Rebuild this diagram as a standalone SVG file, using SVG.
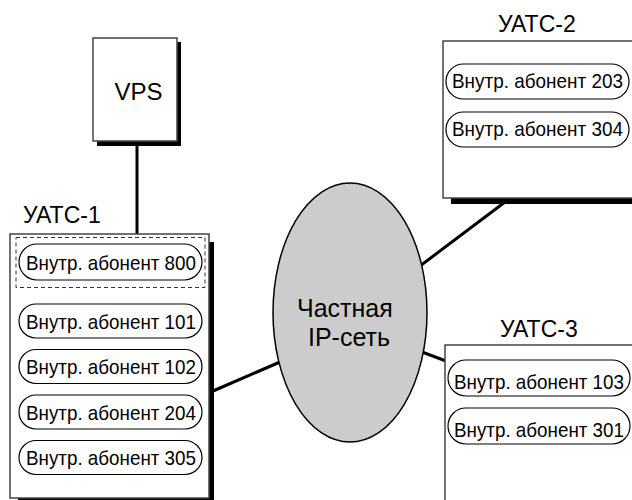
<svg xmlns="http://www.w3.org/2000/svg" width="632" height="500" viewBox="0 0 632 500">
<style>
.box{fill:#fff;stroke:#444;stroke-width:1.5}
.sh{fill:#000}
.pill{fill:#fff;stroke:#000;stroke-width:1.2}
.t{font-family:"Liberation Sans",Arial,sans-serif;fill:#000}
.pt{font-size:21px;text-anchor:middle}
.lbl{font-size:23px}
.con{stroke:#000;stroke-width:3;fill:none}
</style>
<rect width="632" height="500" fill="#fff"/>
<g id="connectors">
<line class="con" x1="137" y1="143" x2="137" y2="234"/>
<line class="con" x1="213" y1="391" x2="280" y2="362"/>
<line class="con" x1="505" y1="202" x2="420" y2="266"/>
<line class="con" x1="422" y1="352" x2="446" y2="361"/>
</g>
<g id="vps">
<rect class="sh" x="97" y="42" width="84" height="104"/>
<rect class="box" x="93" y="38" width="84" height="103"/>
<text class="t" x="138.5" y="100" font-size="24" text-anchor="middle">VPS</text>
</g>
<g id="uatc1">
<text class="t lbl" x="23" y="223">УАТС-1</text>
<rect class="sh" x="18" y="242" width="196" height="258"/>
<rect class="box" x="10" y="234" width="199" height="264"/>
<rect x="16" y="237.5" width="189" height="50" fill="none" stroke="#333" stroke-width="1" stroke-dasharray="4 3"/>
<g id="ext800"><rect class="pill" x="19" y="244" width="183" height="36" rx="18"/><text class="t pt" x="111" y="269.5" textLength="170" lengthAdjust="spacingAndGlyphs">Внутр. абонент 800</text></g>
<g id="ext101"><rect class="pill" x="19" y="304" width="183" height="34" rx="17"/><text class="t pt" x="111" y="328.5" textLength="170" lengthAdjust="spacingAndGlyphs">Внутр. абонент 101</text></g>
<g id="ext102"><rect class="pill" x="19" y="349.5" width="183" height="34" rx="17"/><text class="t pt" x="111" y="374" textLength="170" lengthAdjust="spacingAndGlyphs">Внутр. абонент 102</text></g>
<g id="ext204"><rect class="pill" x="19" y="395" width="183" height="34" rx="17"/><text class="t pt" x="111" y="419.5" textLength="170" lengthAdjust="spacingAndGlyphs">Внутр. абонент 204</text></g>
<g id="ext305"><rect class="pill" x="19" y="440.5" width="183" height="34" rx="17"/><text class="t pt" x="111" y="465" textLength="170" lengthAdjust="spacingAndGlyphs">Внутр. абонент 305</text></g>
</g>
<g id="uatc2">
<text class="t lbl" x="498" y="32">УАТС-2</text>
<rect class="sh" x="451" y="49" width="181" height="155"/>
<rect class="box" x="443" y="41" width="190" height="157"/>
<g id="ext203"><rect class="pill" x="446" y="64" width="183" height="35" rx="17.5"/><text class="t pt" x="537.5" y="88" textLength="171" lengthAdjust="spacingAndGlyphs">Внутр. абонент 203</text></g>
<g id="ext304"><rect class="pill" x="446" y="112" width="183" height="35" rx="17.5"/><text class="t pt" x="537.5" y="136" textLength="171" lengthAdjust="spacingAndGlyphs">Внутр. абонент 304</text></g>
</g>
<g id="uatc3">
<text class="t lbl" x="500" y="337">УАТС-3</text>
<rect class="box" x="445" y="345" width="188" height="156"/>
<g id="ext103"><rect class="pill" x="448" y="360" width="182" height="36" rx="18"/><text class="t pt" x="539" y="389" textLength="170" lengthAdjust="spacingAndGlyphs">Внутр. абонент 103</text></g>
<g id="ext301"><rect class="pill" x="448" y="408" width="182" height="36" rx="18"/><text class="t pt" x="539" y="437" textLength="170" lengthAdjust="spacingAndGlyphs">Внутр. абонент 301</text></g>
</g>
<g id="ipnet">
<ellipse cx="350" cy="312.5" rx="77" ry="129.5" fill="#ccc" stroke="#000" stroke-width="1.5"/>
<text class="t" x="297" y="317" font-size="25">Частная</text>
<text class="t" x="308" y="346" font-size="25">IP-сеть</text>
</g>
</svg>
